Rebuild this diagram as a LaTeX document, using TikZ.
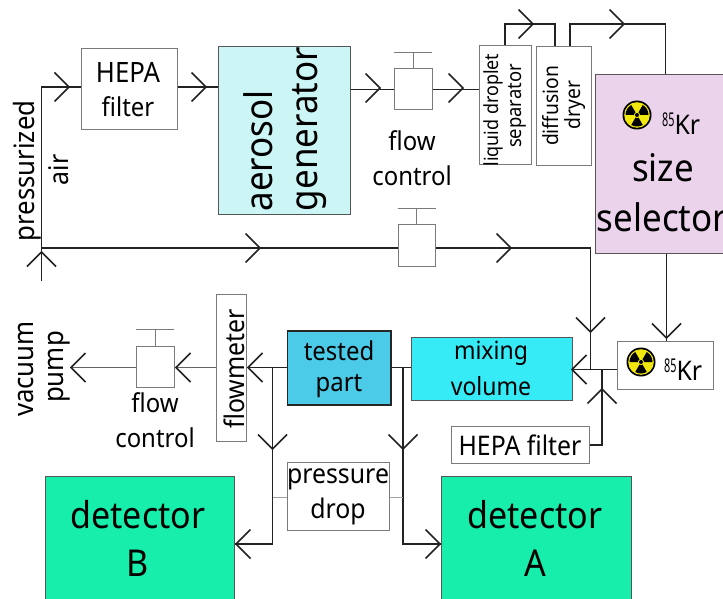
\documentclass[tikz,border=0pt]{standalone}
\usepackage{fontspec}
\usepackage{graphicx}
\setmainfont[FakeStretch=0.92]{Noto Sans}
\usetikzlibrary{calc}
\definecolor{edge}{HTML}{7A7A7A}
\definecolor{flowc}{HTML}{222222}
\definecolor{aerogen}{HTML}{CCF5F5}
\definecolor{sizesel}{HTML}{EBD3EC}
\definecolor{mixc}{HTML}{36EAF6}
\definecolor{testc}{HTML}{4BCBE8}
\definecolor{detc}{HTML}{18EEAC}
\definecolor{radc}{HTML}{F2E60F}
\newcommand\fs[1]{\fontsize{#1}{#1}\selectfont}
\tikzset{
  plain/.style={draw=edge,line width=1pt,fill=white},
  solid box/.style={draw=edge!70!black,line width=1pt,fill=#1},
  txt/.style={inner sep=0pt,align=center},
  flowline/.style={draw=flowc,line width=1.5pt},
  stub/.style={draw=edge!70!white,line width=1.5pt},
  pumpline/.style={draw=flowc!70!white,line width=1.5pt},
  vr/.pic={\draw[flowline] (-14.5,-14.5)--(0,0)--(-14.5,14.5);},
  vl/.pic={\draw[flowline] (14.5,-14.5)--(0,0)--(14.5,14.5);},
  vd/.pic={\draw[flowline] (-14.5,-14.5)--(0,0)--(14.5,-14.5);},
  vu/.pic={\draw[flowline] (-14.5,14.5)--(0,0)--(14.5,14.5);},
  rad/.pic={
    \fill[black] (0,0) circle (14.5);
    \fill[radc] (0,0) circle (12.8);
    \foreach \a in {90,210,330}{
      \fill[black] (0,0) -- ({\a-30}:11.5) arc[start angle=\a-30,end angle=\a+30,radius=11.5] -- cycle;}
    \fill[radc] (0,0) circle (3);
    \fill[black] (0,0) circle (2);
  }
}
\newcommand\bx[7]{%
  \pgfmathsetmacro\bxw{#5-#3}\pgfmathsetmacro\bxh{#6-#4}%
  \node[#1,minimum width=\bxw pt,minimum height=\bxh pt,inner sep=0pt] (#2) at ({(#3+#5)/2},{(#4+#6)/2}) {#7};}
\newcommand\valve[5]{%
  \bx{plain}{#1}{#2}{#3}{#4}{#5}{}
  \coordinate (#1t) at ({(#2+#4)/2},{#3-16.5});
  \draw[draw=edge,line width=1pt] (#1.north) -- (#1t);
  \draw[draw=edge,line width=1pt] ($(#1t)+(-19,0)$) -- ($(#1t)+(19,0)$);}
\newcommand\nuc[1]{\raisebox{#1pt}{\scalebox{.62}[1]{\fs{19}85}}}
\begin{document}
\begin{tikzpicture}[x=1pt,y=-1pt]
\useasboundingbox (0,0) rectangle (723,599);
\clip (0,0) rectangle (723,599);
\fill[white] (0,0) rectangle (723,599);
% connectors first
\coordinate (inlet) at (41.5,281);
\coordinate (elbow) at (41.5,87);
\coordinate (split) at (41.5,248);
\coordinate (ld1) at (505,24);
\coordinate (ld2) at (555,24);
\coordinate (dd1) at (570,24);
\coordinate (dd2) at (665.5,24);
\coordinate (mainc) at (590.5,248);
\coordinate (mixin) at (590.5,369.5);
\coordinate (hepaj) at (602,445);
\coordinate (hepam) at (602,369.5);
\coordinate (junB) at (272.5,367.5);
\coordinate (junBp) at (272.5,497.5);
\coordinate (junBe) at (272.5,544);
\coordinate (junA) at (403,367.5);
\coordinate (junAp) at (403,497.5);
\coordinate (junAe) at (403,544);
\coordinate (pumpend) at (71,367.5);
% boxes
\bx{plain}{hepa}{81}{49}{177}{130}{}
\bx{solid box=aerogen}{agen}{218}{47}{350}{214}{}
\valve{v1}{394.5}{69}{432}{110}
\valve{v2}{398}{224.5}{435}{266}
\valve{v3}{136.5}{346}{174}{387}
\bx{plain}{ldrop}{479}{46}{531}{165}{}
\bx{plain}{ddry}{536.5}{47}{591}{166}{}
\bx{solid box=sizesel}{sel}{595}{75}{740}{253}{}
\bx{plain}{kr}{617}{341}{713}{389}{}
\bx{solid box=mixc}{mix}{411}{337}{572}{400}{}
\bx{plain}{hepb}{451}{426}{589.5}{463.5}{}
\bx{draw=black!85,line width=1.5pt,fill=testc}{tested}{287.5}{331}{391}{405}{}
\bx{plain}{fm}{216}{294}{246.5}{441}{}
\bx{plain}{pd}{287}{462.5}{389.5}{530.5}{}
\bx{solid box=detc}{detB}{45}{476}{234}{602}{}
\bx{solid box=detc}{detA}{441.5}{476}{631}{602}{}
% flow lines
\draw[flowline] (inlet) -- (elbow) -- (elbow -| hepa.west);
\draw[flowline] (split) -- (split -| v2.west);
\draw[flowline] (split -| v2.east) -- (mainc) -- (mixin);
\draw[flowline] (hepa.east |- elbow) -- (agen.west |- elbow);
\draw[flowline] (agen.east |- v1) -- (v1.west);
\draw[flowline] (v1.east) -- (ldrop.west |- v1);
\draw[flowline] (ld1 |- ldrop.north) -- (ld1) -- (ld2) -- (ld2 |- ddry.north);
\draw[flowline] (dd1 |- ddry.north) -- (dd1) -- (dd2) -- (dd2 |- sel.north);
\draw[flowline] ($(dd2 |- sel.south)+(1,0)$) -- ($(dd2 |- kr.north)+(1,0)$);
\draw[flowline] (kr.west |- mixin) -- (mix.east |- mixin);
\draw[flowline] (hepb.east |- hepaj) -- (hepaj) -- (hepam);
\draw[flowline] (tested.west |- junB) -- (fm.east |- junB);
\draw[pumpline] (fm.west |- junB) -- (v3.east |- junB);
\draw[pumpline] (v3.west |- junB) -- (pumpend);
\draw[flowline] (junB) -- (junBe) -- (detB.east |- junBe);
\draw[flowline] (tested.east |- junA) -- (mix.west |- junA);
\draw[flowline] (junA) -- (junAe) -- (detA.west |- junAe);
\draw[stub] (junBp) -- (pd.west |- junBp);
\draw[stub] (pd.east |- junAp) -- (junAp);
% arrowheads
\pic at (69,87) {vr};
\pic at (206,87) {vr};
\pic at (380,88) {vr};
\pic at (463,88) {vr};
\pic at (533,24) {vr};
\pic at (624,24) {vr};
\pic at (260,248) {vr};
\pic at (511,248) {vr};
\pic at (41.5,252) {vu};
\pic at (590.5,332) {vd};
\pic at (666.5,338) {vd};
\pic at (572,369.5) {vl};
\pic at (602,389) {vu};
\pic at (248,367.5) {vl};
\pic at (176,367.5) {vl};
\pic at (71,367.5) {vl};
\pic at (272.5,449) {vd};
\pic at (403,449) {vd};
\pic at (236,544) {vl};
\pic at (440,544) {vr};
% text
\node[txt,font=\fs{28}] (t1) at (128,72) {HEPA};
\node[txt,font=\fs{26}] (t2) at (128,107) {filter};
\node[txt,rotate=90,font=\fs{28}] (t3) at (27,171) {pressurized};
\node[txt,rotate=90,font=\fs{27}] (t4) at (59,170) {air};
\node[txt,rotate=90,font=\fs{38}] (t5) at (258,151) {aerosol};
\node[txt,rotate=90,font=\fs{38}] (t6) at (310,129) {generator};
\node[txt,font=\fs{26}] (t7) at (412,141) {flow};
\node[txt,font=\fs{26}] (t8) at (412,176) {control};
\node[txt,rotate=90,font=\fs{19.5}] (t9) at (493,110) {liquid droplet};
\node[txt,rotate=90,font=\fs{20}] (t10) at (517,106) {separator};
\node[txt,rotate=90,font=\fs{21}] (t11) at (551,106) {diffusion};
\node[txt,rotate=90,font=\fs{21}] (t12) at (575,105) {dryer};
\pic at (637,115) {rad};
\node[txt,font=\fs{27},anchor=base west] (t13) at (662,135) {\nuc{8}Kr};
\node[txt,font=\fs{38}] (t14) at (663,168) {size};
\node[txt,font=\fs{38}] (t15) at (662,217) {selector};
\pic at (641,362) {rad};
\node[txt,font=\fs{27},anchor=base west] (t16) at (664,380) {\nuc{8}Kr};
\node[txt,font=\fs{25}] (t17) at (491,353) {mixing};
\node[txt,font=\fs{25}] (t18) at (491,386) {volume};
\node[txt,font=\fs{26}] (t19) at (339,351) {tested};
\node[txt,font=\fs{26}] (t20) at (339,386) {part};
\node[txt,font=\fs{27}] (t21) at (520,445) {HEPA filter};
\node[txt,rotate=90,font=\fs{27}] (t22) at (234,369) {flowmeter};
\node[txt,rotate=90,font=\fs{28}] (t23) at (26,369) {vacuum};
\node[txt,rotate=90,font=\fs{28}] (t24) at (59,367) {pump};
\node[txt,font=\fs{26}] (t25) at (155,403) {flow};
\node[txt,font=\fs{26}] (t26) at (155,438) {control};
\node[txt,font=\fs{27}] (t27) at (338,479) {pressure};
\node[txt,font=\fs{27}] (t28) at (338,511) {drop};
\node[txt,font=\fs{37}] (t29) at (138,515) {detector};
\node[txt,font=\fs{37}] (t30) at (138,563) {B};
\node[txt,font=\fs{37}] (t31) at (535,515) {detector};
\node[txt,font=\fs{37}] (t32) at (535,563) {A};
\end{tikzpicture}
\end{document}
